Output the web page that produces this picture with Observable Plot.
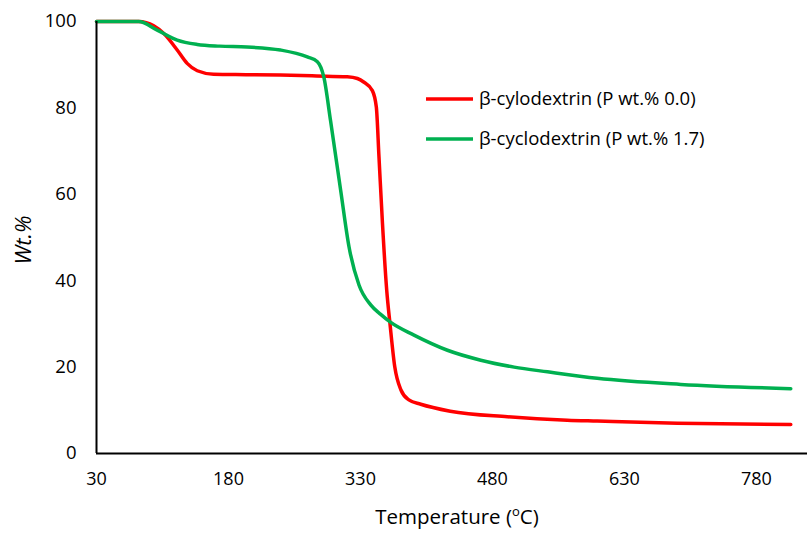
<!DOCTYPE html>
<html>
<head>
<meta charset="utf-8">
<script src="https://cdn.jsdelivr.net/npm/d3@7"></script>
<script src="https://cdn.jsdelivr.net/npm/@observablehq/plot@0.6"></script>
<style>
  html, body { margin: 0; padding: 0; background: #fff; }
  #chart { width: 807px; height: 534px; overflow: hidden; }
  svg { font-family: "Open Sans", sans-serif; }
</style>
</head>
<body>
<div id="chart"></div>
<script>
// Series: β-cylodextrin (P wt.% 0.0)
const tempRed = [30, 78, 95, 106.5, 121.7, 133, 144.5, 163, 200, 239, 280, 315, 326.5, 333.6, 343.5, 348, 351, 355, 359.8, 363.5, 369, 376, 385, 398.5, 432, 497, 565, 599, 690, 819];
const wtRed   = [100, 100, 99, 97.2, 93.4, 90.3, 88.6, 87.8, 87.7, 87.6, 87.4, 87.2, 86.8, 86, 84, 80.2, 68.7, 53.2, 37.8, 30.1, 20, 14.7, 12.4, 11.4, 9.8, 8.5, 7.7, 7.5, 7.0, 6.7];
// Series: β-cyclodextrin (P wt.% 1.7)
const tempGreen = [30, 78, 99, 121.7, 144.5, 170, 201, 239, 269.6, 281, 288.5, 296, 307.5, 317, 328.3, 341.6, 353, 364, 390.8, 428.8, 466.7, 504.6, 542.5, 599, 694, 819];
const wtGreen   = [100, 100, 98, 95.7, 94.7, 94.3, 94.1, 93.4, 91.8, 90.7, 87, 77, 60.9, 47.8, 39.0, 34.4, 32.2, 30.4, 27.4, 23.9, 21.6, 20, 18.9, 17.4, 16, 15];

const seriesNames = ["β-cylodextrin (P wt.% 0.0)", "β-cyclodextrin (P wt.% 1.7)"];
const seriesColors = ["#FF0000", "#00B050"];
const xTicks = [30, 180, 330, 480, 630, 780];
const yTicks = [0, 20, 40, 60, 80, 100];
const xDomain = [30, 838];
const yDomain = [0, 100];

const data = [
  ...tempRed.map((t, i) => ({series: seriesNames[0], t, w: wtRed[i]})),
  ...tempGreen.map((t, i) => ({series: seriesNames[1], t, w: wtGreen[i]}))
];

const W = 807, H = 534;

const plot = Plot.plot({
  width: W,
  height: H,
  marginLeft: 96,
  marginRight: 0,
  marginTop: 21,
  marginBottom: 81,
  style: {fontFamily: "'Open Sans', sans-serif", color: "#000", background: "#fff", overflow: "visible"},
  x: {domain: xDomain},
  y: {domain: yDomain},
  color: {domain: seriesNames, range: seriesColors},
  marks: [
    Plot.axisX({ticks: xTicks, tickSize: 0, tickPadding: 19, fontSize: 18, label: null, fill: "#000"}),
    Plot.axisY({ticks: yTicks, tickSize: 0, tickPadding: 20, fontSize: 18.5, label: null, fill: "#000"}),
    Plot.line(data, {x: "t", y: "w", z: "series", stroke: "series", strokeWidth: 3.5, curve: "monotone-x"}),
    Plot.ruleX([xDomain[0]], {stroke: "#000", strokeWidth: 2}),
    Plot.ruleY([yDomain[0]], {stroke: "#000", strokeWidth: 2})
  ]
});

document.getElementById("chart").appendChild(plot);

const svg = d3.select(plot);

// x-axis title
const xt = svg.append("text")
  .attr("x", 457).attr("y", 524)
  .attr("text-anchor", "middle")
  .attr("font-size", 20.5)
  .attr("fill", "#000");
xt.append("tspan").text("Temperature (");
xt.append("tspan").attr("dy", -8).attr("font-size", 13).text("o");
xt.append("tspan").attr("dy", 8).text("C)");

// y-axis title
svg.append("text")
  .attr("transform", "translate(23,240) rotate(-90)")
  .attr("text-anchor", "middle")
  .attr("dy", "0.35em")
  .attr("font-size", 22)
  .attr("font-style", "italic")
  .attr("fill", "#000")
  .text("Wt.%");

// legend
const lg = svg.append("g");
seriesNames.forEach((name, i) => {
  const y = 99 + i * 40;
  lg.append("line").attr("x1", 426).attr("x2", 473).attr("y1", y).attr("y2", y)
    .attr("stroke", seriesColors[i]).attr("stroke-width", 3.5);
  lg.append("text").attr("x", 479).attr("y", y).attr("dy", "0.35em")
    .attr("text-anchor", "start")
    .attr("font-size", 18.5).attr("fill", "#000").text(name);
});
</script>
</body>
</html>
